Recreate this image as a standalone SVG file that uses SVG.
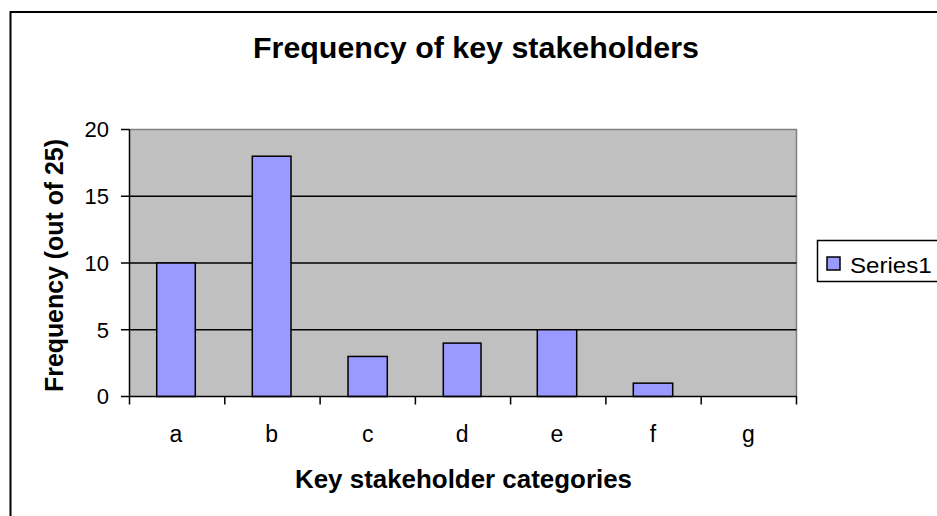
<svg xmlns="http://www.w3.org/2000/svg" width="937" height="516" viewBox="0 0 937 516">
<style>
text{font-family:"Liberation Sans",Arial,sans-serif;fill:#000}
.t{font-size:29px;font-weight:bold}
.ax{font-size:25px;font-weight:bold}
.tk{font-size:22px}
.cat{font-size:23px}
.bar{fill:#9999FF;stroke:#000;stroke-width:1.5}
.grid{stroke:#000;stroke-width:1.5}
.tick{stroke:#000;stroke-width:1.5}
</style>
<rect x="0" y="0" width="937" height="516" fill="#fff"/>
<rect x="10.5" y="12" width="940" height="520" fill="#fff" stroke="#000" stroke-width="2"/>
<g id="title"><text class="t" x="476" y="57.5" text-anchor="middle" textLength="446" lengthAdjust="spacingAndGlyphs">Frequency of key stakeholders</text></g>
<g id="plot">
<rect x="129.5" y="129.5" width="667" height="267" fill="#C0C0C0"/>
<polyline points="129.5,129.5 796.5,129.5 796.5,396.5" fill="none" stroke="#808080" stroke-width="1.5"/>
<line class="grid" x1="129.5" y1="196.25" x2="796.5" y2="196.25"/>
<line class="grid" x1="129.5" y1="263" x2="796.5" y2="263"/>
<line class="grid" x1="129.5" y1="329.75" x2="796.5" y2="329.75"/>
</g>
<g id="bars">
<rect id="bar-a" class="bar" x="156.7" y="263" width="38.6" height="133.5"/>
<rect id="bar-b" class="bar" x="252.3" y="156.2" width="38.7" height="240.3"/>
<rect id="bar-c" class="bar" x="348" y="356.45" width="39.3" height="40.05"/>
<rect id="bar-d" class="bar" x="443.3" y="343.1" width="37.7" height="53.4"/>
<rect id="bar-e" class="bar" x="537.3" y="329.75" width="39.4" height="66.75"/>
<rect id="bar-f" class="bar" x="633.3" y="383.15" width="39.4" height="13.35"/>
</g>
<g id="axes">
<line class="tick" x1="129.5" y1="129.5" x2="129.5" y2="397"/>
<line class="tick" x1="129" y1="396.5" x2="797" y2="396.5"/>
<g class="ticks">
<line class="tick" x1="121" y1="129.5" x2="129.5" y2="129.5"/>
<line class="tick" x1="121" y1="196.25" x2="129.5" y2="196.25"/>
<line class="tick" x1="121" y1="263" x2="129.5" y2="263"/>
<line class="tick" x1="121" y1="329.75" x2="129.5" y2="329.75"/>
<line class="tick" x1="121" y1="396.5" x2="129.5" y2="396.5"/>
<line class="tick" x1="129.5" y1="396.5" x2="129.5" y2="404.5"/>
<line class="tick" x1="224.8" y1="396.5" x2="224.8" y2="404.5"/>
<line class="tick" x1="320.1" y1="396.5" x2="320.1" y2="404.5"/>
<line class="tick" x1="415.4" y1="396.5" x2="415.4" y2="404.5"/>
<line class="tick" x1="510.6" y1="396.5" x2="510.6" y2="404.5"/>
<line class="tick" x1="605.9" y1="396.5" x2="605.9" y2="404.5"/>
<line class="tick" x1="701.2" y1="396.5" x2="701.2" y2="404.5"/>
<line class="tick" x1="796.5" y1="396.5" x2="796.5" y2="404.5"/>
</g>
<g id="y-labels" text-anchor="end">
<text class="tk" x="109" y="137.4">20</text>
<text class="tk" x="109" y="204.1">15</text>
<text class="tk" x="109" y="270.9">10</text>
<text class="tk" x="109" y="337.6">5</text>
<text class="tk" x="109" y="404.4">0</text>
</g>
<g id="x-labels" text-anchor="middle">
<text class="cat" x="176" y="442">a</text>
<text class="cat" x="271.7" y="442">b</text>
<text class="cat" x="367.7" y="442">c</text>
<text class="cat" x="462.2" y="442">d</text>
<text class="cat" x="557" y="442">e</text>
<text class="cat" x="653" y="442">f</text>
<text class="cat" x="748.5" y="442">g</text>
</g>
</g>
<g id="y-title"><text class="ax" transform="translate(63,265.5) rotate(-90)" x="0" y="0" text-anchor="middle" textLength="253" lengthAdjust="spacingAndGlyphs">Frequency (out of 25)</text></g>
<g id="x-title"><text class="ax" x="463.5" y="488" text-anchor="middle" textLength="337" lengthAdjust="spacingAndGlyphs">Key stakeholder categories</text></g>
<g id="legend">
<rect x="817.5" y="240.5" width="130" height="41" fill="#fff" stroke="#000" stroke-width="1.5"/>
<rect x="827" y="257" width="13" height="13" class="bar" stroke-width="1"/>
<text class="tk" x="850" y="272.5" textLength="81.7" lengthAdjust="spacingAndGlyphs">Series1</text>
</g>
</svg>
